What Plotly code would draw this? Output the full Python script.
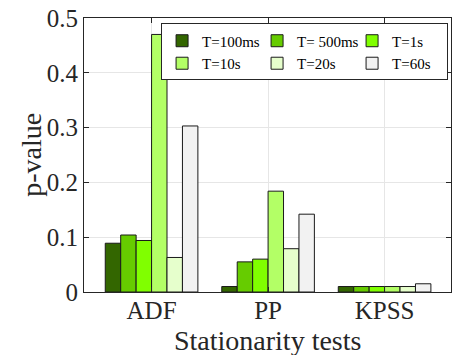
import plotly.graph_objects as go

categories = ["ADF", "PP", "KPSS"]
series_names = ["T=100ms", "T= 500ms", "T=1s", "T=10s", "T=20s", "T=60s"]
values_100ms = [0.089, 0.010, 0.010]
values_500ms = [0.104, 0.055, 0.010]
values_1s = [0.094, 0.060, 0.010]
values_10s = [0.470, 0.184, 0.010]
values_20s = [0.063, 0.079, 0.010]
values_60s = [0.303, 0.142, 0.015]
colors = ["#336600", "#66cc00", "#80ff00", "#b3ff66", "#e6ffcc", "#f2f2f2"]
ytick_vals = [0, 0.1, 0.2, 0.3, 0.4, 0.5]
ytick_text = ["0", "0.1", "0.2", "0.3", "0.4", "0.5"]
x_title = "Stationarity tests"
y_title = "p-value"

all_values = [values_100ms, values_500ms, values_1s, values_10s, values_20s, values_60s]

FONT = "Liberation Serif"
AX = "#262626"

fig = go.Figure()
for name, vals, col in zip(series_names, all_values, colors):
    fig.add_trace(go.Bar(
        x=categories, y=vals, name=name,
        marker=dict(color=col, line=dict(color="#1a1a1a", width=1)),
    ))

fig.update_layout(
    width=453, height=355,
    margin=dict(l=84, r=2, t=18, b=63),
    paper_bgcolor="white", plot_bgcolor="white",
    barmode="group", bargap=0.205, bargroupgap=0,
    font=dict(family=FONT, color=AX),
    legend=dict(
        orientation="h", x=0.992, y=0.98, xanchor="right", yanchor="top",
        bgcolor="white", bordercolor=AX, borderwidth=1,
        font=dict(size=15, family=FONT, color="black"),
        entrywidth=50, entrywidthmode="pixels",
        tracegroupgap=0, itemwidth=30,
    ),
    showlegend=True,
    annotations=[
        dict(text=x_title, xref="paper", yref="paper", x=0.5, y=-0.178,
             xanchor="center", yanchor="middle", showarrow=False,
             font=dict(size=28, family=FONT, color=AX)),
        dict(text=y_title, xref="paper", yref="paper", x=-0.145, y=0.5,
             xanchor="center", yanchor="middle", showarrow=False, textangle=-90,
             font=dict(size=28, family=FONT, color=AX)),
    ],
)
fig.update_xaxes(
    range=[-0.58, 2.57], automargin=False,
    showline=True, linecolor=AX, linewidth=1, mirror="allticks",
    ticks="inside", ticklen=5, tickcolor=AX,
    showgrid=True, gridcolor="#e6e6e6", gridwidth=1,
    tickfont=dict(size=25, family=FONT, color=AX),
    ticklabelstandoff=-4,
)
fig.update_yaxes(
    range=[0, 0.5], automargin=False,
    tickvals=ytick_vals, ticktext=ytick_text,
    showline=True, linecolor=AX, linewidth=1, mirror="allticks",
    ticks="inside", ticklen=5, tickcolor=AX,
    showgrid=True, gridcolor="#e6e6e6", gridwidth=1,
    zeroline=False,
    tickfont=dict(size=25, family=FONT, color=AX),
)

fig.write_html(
    "out.html",
    config={"displayModeBar": False},
    post_script="document.body.style.margin='0';document.body.style.overflow='hidden';",
)
